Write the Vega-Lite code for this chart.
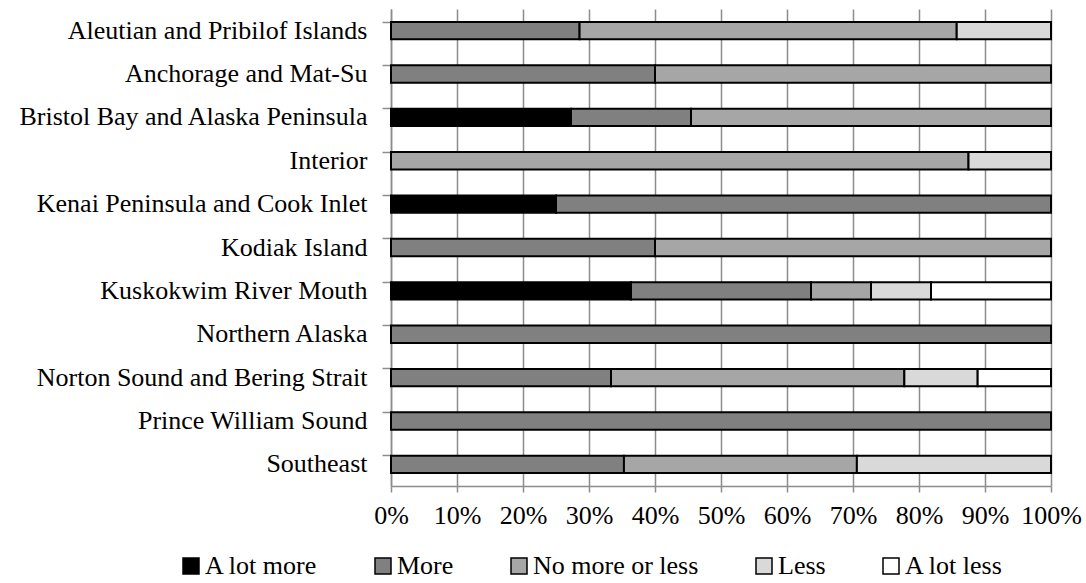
{
  "$schema": "https://vega.github.io/schema/vega-lite/v6.json",
  "autosize": {"type": "none"},
  "padding": {"left": 391, "top": 9, "right": 35, "bottom": 97},
  "width": 660,
  "height": 477,
  "background": "white",
  "config": {
    "view": {"stroke": null},
    "font": "Liberation Serif"
  },
  "data": {
    "values": [
      {"region": "Aleutian and Pribilof Islands", "response": "More", "count": 2},
      {"region": "Aleutian and Pribilof Islands", "response": "No more or less", "count": 4},
      {"region": "Aleutian and Pribilof Islands", "response": "Less", "count": 1},
      {"region": "Anchorage and Mat-Su", "response": "More", "count": 2},
      {"region": "Anchorage and Mat-Su", "response": "No more or less", "count": 3},
      {"region": "Bristol Bay and Alaska Peninsula", "response": "A lot more", "count": 3},
      {"region": "Bristol Bay and Alaska Peninsula", "response": "More", "count": 2},
      {"region": "Bristol Bay and Alaska Peninsula", "response": "No more or less", "count": 6},
      {"region": "Interior", "response": "No more or less", "count": 7},
      {"region": "Interior", "response": "Less", "count": 1},
      {"region": "Kenai Peninsula and Cook Inlet", "response": "A lot more", "count": 1},
      {"region": "Kenai Peninsula and Cook Inlet", "response": "More", "count": 3},
      {"region": "Kodiak Island", "response": "More", "count": 2},
      {"region": "Kodiak Island", "response": "No more or less", "count": 3},
      {"region": "Kuskokwim River Mouth", "response": "A lot more", "count": 4},
      {"region": "Kuskokwim River Mouth", "response": "More", "count": 3},
      {"region": "Kuskokwim River Mouth", "response": "No more or less", "count": 1},
      {"region": "Kuskokwim River Mouth", "response": "Less", "count": 1},
      {"region": "Kuskokwim River Mouth", "response": "A lot less", "count": 2},
      {"region": "Northern Alaska", "response": "More", "count": 1},
      {"region": "Norton Sound and Bering Strait", "response": "More", "count": 3},
      {"region": "Norton Sound and Bering Strait", "response": "No more or less", "count": 4},
      {"region": "Norton Sound and Bering Strait", "response": "Less", "count": 1},
      {"region": "Norton Sound and Bering Strait", "response": "A lot less", "count": 1},
      {"region": "Prince William Sound", "response": "More", "count": 1},
      {"region": "Southeast", "response": "More", "count": 6},
      {"region": "Southeast", "response": "No more or less", "count": 6},
      {"region": "Southeast", "response": "Less", "count": 5}
    ]
  },
  "transform": [
    {"calculate": "indexof(['A lot more','More','No more or less','Less','A lot less'], datum.response)", "as": "ord"}
  ],
  "mark": {"type": "bar", "stroke": "black", "strokeWidth": 2},
  "encoding": {
    "y": {
      "field": "region",
      "type": "nominal",
      "sort": null,
      "scale": {"paddingInner": 0.6, "paddingOuter": 0.3},
      "axis": {
        "title": null,
        "bandPosition": 0,
        "labelFont": "Liberation Serif",
        "labelFontSize": 26,
        "labelColor": "black",
        "labelPadding": 15,
        "labelLimit": 400,
        "tickSize": 9,
        "tickColor": "#8c8c8c",
        "tickWidth": 1.5,
        "domainColor": "#8c8c8c",
        "domainWidth": 1.5,
        "grid": false
      }
    },
    "x": {
      "field": "count",
      "type": "quantitative",
      "stack": "normalize",
      "scale": {"domain": [0, 1], "nice": false},
      "axis": {
        "title": null,
        "format": ".0%",
        "values": [0, 0.1, 0.2, 0.3, 0.4, 0.5, 0.6, 0.7, 0.8, 0.9, 1],
        "labelFont": "Liberation Serif",
        "labelFontSize": 26,
        "labelColor": "black",
        "labelPadding": 10,
        "labelFlush": false,
        "labelOverlap": false,
        "tickSize": 6,
        "tickColor": "#8c8c8c",
        "tickWidth": 1.5,
        "domainColor": "#8c8c8c",
        "domainWidth": 1.5,
        "grid": true,
        "gridColor": "#8c8c8c",
        "gridWidth": 1.5
      }
    },
    "color": {
      "field": "response",
      "type": "nominal",
      "sort": ["A lot more", "More", "No more or less", "Less", "A lot less"],
      "scale": {
        "domain": ["A lot more", "More", "No more or less", "Less", "A lot less"],
        "range": ["#000000", "#808080", "#a6a6a6", "#d9d9d9", "#ffffff"]
      },
      "legend": {
        "title": null,
        "orient": "none",
        "direction": "horizontal",
        "legendX": -213,
        "legendY": 544,
        "columns": 5,
        "columnPadding": 52,
        "symbolType": "square",
        "symbolSize": 256,
        "symbolStrokeColor": "black",
        "symbolStrokeWidth": 1.5,
        "symbolOpacity": 1,
        "labelFont": "Liberation Serif",
        "labelFontSize": 26,
        "labelColor": "black",
        "labelOffset": 1,
        "labelLimit": 300
      }
    },
    "order": {"field": "ord", "type": "quantitative"}
  }
}
